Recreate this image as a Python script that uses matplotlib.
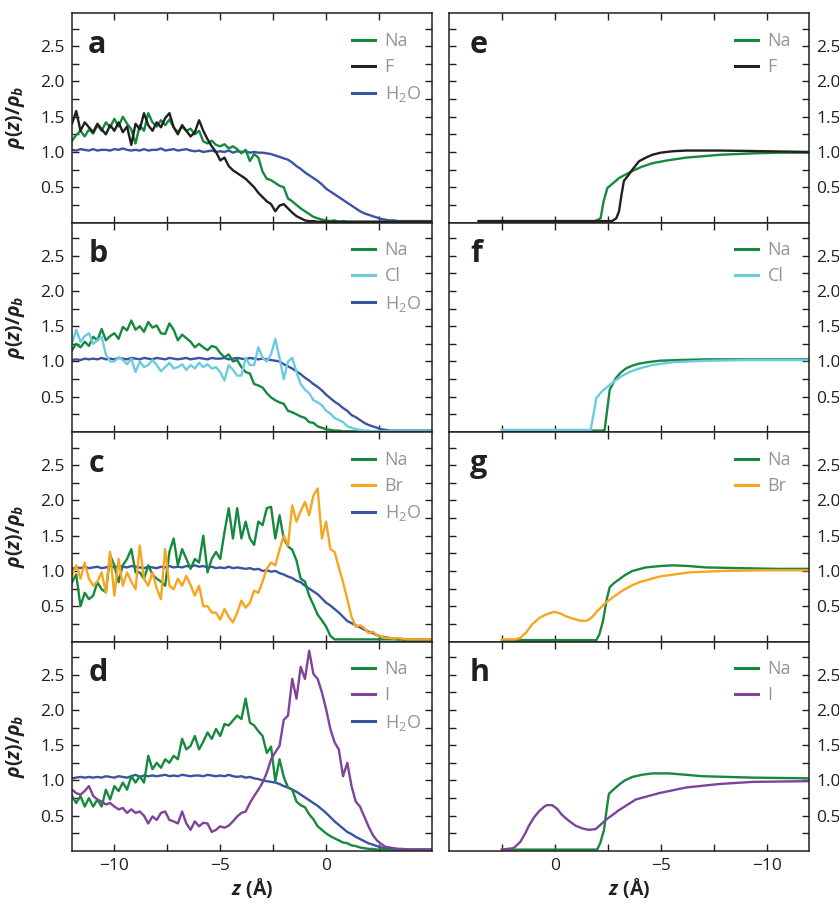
import numpy as np
import matplotlib
matplotlib.use("Agg")
import matplotlib.pyplot as plt
from matplotlib.ticker import FixedLocator
from matplotlib.lines import Line2D

plt.rcParams['font.family'] = ['Open Sans', 'DejaVu Sans']
plt.rcParams['mathtext.fontset'] = 'custom'
plt.rcParams['mathtext.it'] = 'Open Sans:italic:bold'
plt.rcParams['mathtext.rm'] = 'Open Sans:bold'
plt.rcParams['mathtext.bf'] = 'Open Sans:bold'

# ---- simulation profiles (left column), z in Angstrom, step 0.2 ----
z_sim = np.round(np.arange(-12.0, 5.001, 0.2), 1)

a_na = [1.16, 1.24, 1.30, 1.22, 1.32, 1.26, 1.38, 1.30, 1.42, 1.35,
        1.47, 1.36, 1.50, 1.40, 1.32, 1.12, 1.38, 1.30, 1.55, 1.42,
        1.36, 1.45, 1.38, 1.46, 1.35, 1.28, 1.36, 1.30, 1.33, 1.25,
        1.30, 1.15, 1.12, 1.16, 1.10, 1.08, 1.11, 1.05, 1.08, 1.04,
        0.98, 1.03, 0.87, 0.97, 0.92, 0.72, 0.62, 0.60, 0.56, 0.52,
        0.50, 0.34, 0.30, 0.25, 0.20, 0.16, 0.12, 0.08, 0.06, 0.04,
        0.03, 0.02, 0.03, 0.01, 0.02, 0.01, 0.01, 0.01, 0.01, 0.01,
        0.01, 0.01, 0.01, 0.01, 0.01, 0.01, 0.01, 0.01, 0.01, 0.01,
        0.01, 0.01, 0.01, 0.01, 0.01, 0.01]
a_f = [1.40, 1.58, 1.30, 1.42, 1.35, 1.28, 1.40, 1.32, 1.25, 1.38,
       1.30, 1.42, 1.28, 1.36, 1.10, 1.40, 1.32, 1.55, 1.38, 1.30,
       1.42, 1.35, 1.48, 1.55, 1.35, 1.25, 1.38, 1.30, 1.22, 1.28,
       1.45, 1.30, 1.18, 1.08, 1.00, 0.88, 0.92, 0.80, 0.74, 0.70,
       0.66, 0.62, 0.56, 0.50, 0.42, 0.36, 0.30, 0.26, 0.16, 0.24,
       0.26, 0.20, 0.14, 0.09, 0.06, 0.03, 0.02, 0.02, 0.01, 0.01,
       0.01, 0.01, 0.01, 0.01, 0.01, 0.01, 0.01, 0.01, 0.01, 0.01,
       0.01, 0.01, 0.01, 0.01, 0.01, 0.01, 0.01, 0.01, 0.01, 0.01,
       0.01, 0.01, 0.01, 0.01, 0.01, 0.01]
a_w = [1.03, 1.02, 1.04, 1.03, 1.02, 1.04, 1.02, 1.03, 1.03, 1.02,
       1.04, 1.03, 1.05, 1.03, 1.02, 1.03, 1.02, 1.04, 1.02, 1.03,
       1.03, 1.05, 1.02, 1.03, 1.04, 1.02, 1.03, 1.04, 1.02, 1.01,
       1.02, 1.00, 1.01, 1.02, 1.00, 1.01, 1.00, 1.02, 0.99, 1.01,
       1.00, 1.01, 0.99, 1.00, 0.99, 0.99, 0.98, 0.97, 0.95, 0.93,
       0.91, 0.89, 0.85, 0.80, 0.76, 0.71, 0.67, 0.63, 0.59, 0.54,
       0.48, 0.44, 0.40, 0.36, 0.32, 0.28, 0.24, 0.20, 0.16, 0.13,
       0.11, 0.09, 0.07, 0.05, 0.04, 0.03, 0.03, 0.02, 0.02, 0.02,
       0.02, 0.02, 0.02, 0.02, 0.02, 0.02]

b_na = [1.16, 1.25, 1.20, 1.28, 1.22, 1.35, 1.30, 1.46, 1.30, 1.36,
        1.40, 1.32, 1.49, 1.44, 1.58, 1.45, 1.50, 1.42, 1.56, 1.48,
        1.51, 1.40, 1.39, 1.54, 1.45, 1.30, 1.38, 1.33, 1.28, 1.20,
        1.25, 1.20, 1.16, 1.22, 1.20, 1.12, 1.06, 1.10, 1.00, 1.02,
        0.92, 0.85, 0.83, 0.68, 0.66, 0.63, 0.55, 0.49, 0.45, 0.42,
        0.40, 0.30, 0.28, 0.25, 0.22, 0.20, 0.14, 0.13, 0.08, 0.06,
        0.04, 0.03, 0.02, 0.02, 0.01, 0.01, 0.01, 0.01, 0.01, 0.01,
        0.01, 0.01, 0.01, 0.01, 0.01, 0.01, 0.01, 0.01, 0.01, 0.01,
        0.01, 0.01, 0.01, 0.01, 0.01, 0.01]
b_cl = [1.25, 1.45, 1.28, 1.36, 1.40, 1.25, 1.30, 1.35, 1.10, 1.00,
        1.00, 1.06, 1.02, 0.96, 1.04, 0.85, 1.00, 0.92, 0.95, 1.02,
        0.95, 0.86, 0.92, 0.98, 0.90, 0.92, 0.96, 0.88, 0.95, 0.90,
        0.98, 0.92, 0.96, 0.90, 0.92, 0.85, 0.73, 0.95, 0.88, 0.80,
        0.80, 1.05, 0.95, 0.95, 1.20, 1.05, 1.00, 1.10, 1.32, 1.05,
        0.75, 1.00, 1.05, 0.85, 0.68, 0.60, 0.55, 0.45, 0.42, 0.38,
        0.30, 0.26, 0.20, 0.17, 0.14, 0.08, 0.06, 0.04, 0.03, 0.02,
        0.02, 0.01, 0.01, 0.01, 0.01, 0.01, 0.01, 0.01, 0.01, 0.01,
        0.01, 0.01, 0.01, 0.01, 0.01, 0.01]
b_w = [1.02, 1.03, 1.02, 1.04, 1.03, 1.04, 1.03, 1.05, 1.03, 1.04,
       1.03, 1.05, 1.04, 1.03, 1.05, 1.04, 1.03, 1.05, 1.04, 1.03,
       1.05, 1.04, 1.03, 1.05, 1.04, 1.03, 1.04, 1.05, 1.03, 1.04,
       1.05, 1.04, 1.03, 1.05, 1.04, 1.04, 1.05, 1.03, 1.04, 1.05,
       1.04, 1.03, 1.05, 1.04, 1.03, 1.04, 1.03, 1.02, 1.01, 1.00,
       0.96, 0.93, 0.90, 0.86, 0.82, 0.77, 0.73, 0.68, 0.64, 0.59,
       0.53, 0.48, 0.43, 0.39, 0.34, 0.30, 0.24, 0.21, 0.17, 0.13,
       0.10, 0.08, 0.06, 0.04, 0.03, 0.02, 0.02, 0.02, 0.02, 0.02,
       0.02, 0.02, 0.02, 0.02, 0.02, 0.02]

c_na = [0.84, 0.95, 0.50, 0.69, 0.60, 0.65, 0.84, 0.74, 0.70, 1.22,
        1.08, 0.84, 1.08, 1.17, 1.31, 0.98, 0.98, 0.89, 1.08, 0.95,
        0.89, 0.85, 0.79, 1.27, 1.46, 1.08, 1.31, 1.17, 1.03, 1.17,
        1.12, 1.50, 0.98, 1.17, 1.27, 1.17, 1.55, 1.89, 1.46, 1.89,
        1.46, 1.70, 1.46, 1.37, 1.70, 1.65, 1.89, 1.91, 1.46, 1.79,
        1.46, 1.35, 1.30, 1.15, 0.89, 0.85, 0.65, 0.52, 0.38, 0.30,
        0.21, 0.08, 0.03, 0.03, 0.03, 0.03, 0.03, 0.03, 0.03, 0.03,
        0.03, 0.03, 0.03, 0.03, 0.03, 0.03, 0.03, 0.03, 0.03, 0.03,
        0.03, 0.03, 0.03, 0.03, 0.03, 0.03]
c_br = [0.93, 1.08, 0.89, 1.12, 0.89, 0.79, 0.85, 0.98, 0.69, 1.27,
        0.65, 1.17, 0.79, 0.98, 0.85, 0.74, 1.36, 0.89, 0.79, 0.98,
        0.75, 0.60, 1.31, 0.79, 0.74, 0.89, 0.79, 0.93, 0.80, 0.65,
        0.79, 0.50, 0.50, 0.41, 0.41, 0.31, 0.46, 0.35, 0.27, 0.41,
        0.58, 0.48, 0.55, 0.72, 0.69, 0.85, 1.03, 1.12, 1.08, 1.30,
        1.50, 1.36, 1.93, 1.70, 1.85, 1.98, 1.79, 2.07, 2.17, 1.46,
        1.70, 1.31, 1.27, 1.05, 0.84, 0.60, 0.35, 0.21, 0.23, 0.19,
        0.12, 0.14, 0.09, 0.07, 0.05, 0.05, 0.04, 0.05, 0.04, 0.03,
        0.03, 0.03, 0.03, 0.03, 0.03, 0.03]
c_w = [1.03, 1.05, 1.04, 1.06, 1.04, 1.05, 1.06, 1.04, 1.05, 1.07,
       1.05, 1.07, 1.06, 1.05, 1.07, 1.06, 1.05, 1.04, 1.06, 1.05,
       1.04, 1.06, 1.05, 1.07, 1.05, 1.06, 1.05, 1.07, 1.06, 1.08,
       1.06, 1.07, 1.05, 1.06, 1.04, 1.05, 1.04, 1.06, 1.04, 1.05,
       1.04, 1.03, 1.04, 1.02, 1.03, 1.00, 1.01, 0.99, 1.00, 0.97,
       0.95, 0.92, 0.90, 0.86, 0.84, 0.79, 0.75, 0.71, 0.67, 0.61,
       0.55, 0.51, 0.46, 0.41, 0.35, 0.29, 0.26, 0.23, 0.20, 0.17,
       0.14, 0.12, 0.09, 0.07, 0.06, 0.05, 0.04, 0.03, 0.03, 0.02,
       0.02, 0.02, 0.02, 0.02, 0.02, 0.02]

d_na = [0.78, 0.68, 0.78, 0.63, 0.75, 0.63, 0.73, 0.63, 0.87, 0.73,
        0.92, 0.85, 0.97, 0.87, 1.06, 0.97, 1.06, 0.97, 1.35, 1.16,
        1.25, 1.18, 1.30, 1.25, 1.35, 1.30, 1.59, 1.44, 1.49, 1.63,
        1.44, 1.55, 1.68, 1.59, 1.73, 1.63, 1.80, 1.78, 1.85, 1.92,
        1.87, 2.16, 1.82, 1.78, 1.70, 1.63, 1.39, 1.48, 0.99, 1.30,
        1.05, 0.90, 0.87, 0.70, 0.65, 0.62, 0.52, 0.45, 0.35, 0.30,
        0.25, 0.21, 0.18, 0.15, 0.12, 0.11, 0.08, 0.07, 0.05, 0.04,
        0.03, 0.03, 0.02, 0.02, 0.02, 0.02, 0.02, 0.02, 0.02, 0.02,
        0.02, 0.02, 0.02, 0.02, 0.02, 0.02]
d_i = [0.87, 0.82, 0.80, 0.85, 0.92, 0.78, 0.73, 0.70, 0.66, 0.68,
       0.63, 0.59, 0.61, 0.54, 0.59, 0.54, 0.56, 0.50, 0.39, 0.49,
       0.44, 0.54, 0.56, 0.44, 0.42, 0.39, 0.56, 0.39, 0.30, 0.42,
       0.35, 0.40, 0.39, 0.27, 0.30, 0.35, 0.33, 0.36, 0.42, 0.49,
       0.54, 0.56, 0.68, 0.78, 0.87, 0.97, 1.11, 1.30, 1.40, 1.49,
       1.86, 1.92, 2.44, 2.16, 2.61, 2.44, 2.84, 2.51, 2.44, 2.25,
       2.01, 1.73, 1.54, 1.44, 1.06, 1.25, 0.92, 0.70, 0.63, 0.49,
       0.35, 0.23, 0.15, 0.10, 0.06, 0.05, 0.04, 0.03, 0.03, 0.02,
       0.02, 0.02, 0.02, 0.02, 0.02, 0.02]
d_w = [1.03, 1.04, 1.05, 1.04, 1.05, 1.04, 1.05, 1.04, 1.06, 1.05,
       1.04, 1.06, 1.05, 1.04, 1.06, 1.08, 1.05, 1.07, 1.06, 1.07,
       1.06, 1.07, 1.08, 1.06, 1.07, 1.06, 1.08, 1.07, 1.06, 1.07,
       1.07, 1.06, 1.08, 1.07, 1.06, 1.07, 1.06, 1.08, 1.06, 1.05,
       1.06, 1.04, 1.05, 1.03, 1.02, 1.00, 0.99, 0.98, 0.97, 0.95,
       0.92, 0.90, 0.87, 0.84, 0.80, 0.76, 0.72, 0.68, 0.64, 0.59,
       0.54, 0.48, 0.42, 0.37, 0.32, 0.27, 0.24, 0.20, 0.17, 0.14,
       0.11, 0.09, 0.07, 0.05, 0.04, 0.03, 0.03, 0.02, 0.02, 0.02,
       0.02, 0.02, 0.02, 0.02, 0.02, 0.02]

# ---- model profiles (right column) ----
e_na_z = [3.6, 2.0, 0.0, -1.9, -2.16, -2.3, -2.48, -2.8, -3.03, -3.4, -3.66, -4.1,
          -4.6, -5.3, -6.2, -7.0, -7.8, -9.35, -10.5, -12.0]
e_na = [0.02, 0.02, 0.02, 0.02, 0.06, 0.30, 0.49, 0.57, 0.63, 0.69, 0.73, 0.79,
        0.84, 0.88, 0.92, 0.94, 0.96, 0.98, 0.99, 0.99]
e_f_z = [3.6, 0.0, -2.7, -2.9, -3.03, -3.15, -3.26, -3.42, -3.66, -3.98, -4.3, -4.6,
         -5.0, -5.56, -6.2, -7.8, -10.0, -12.0]
e_f = [0.02, 0.02, 0.02, 0.06, 0.16, 0.40, 0.59, 0.65, 0.75, 0.87, 0.92, 0.96,
       0.99, 1.01, 1.02, 1.02, 1.01, 1.00]

f_na_z = [2.5, 0.0, -2.24, -2.35, -2.59, -2.87, -3.1, -3.35, -3.65, -3.98, -4.4,
          -4.93, -5.8, -7.14, -12.0]
f_na = [0.02, 0.02, 0.02, 0.03, 0.60, 0.76, 0.84, 0.90, 0.94, 0.97, 0.99,
        1.01, 1.02, 1.03, 1.03]
f_cl_z = [2.5, 0.0, -1.69, -1.96, -2.2, -2.56, -2.9, -3.19, -3.6, -3.98, -4.6,
          -5.56, -7.14, -9.0, -12.0]
f_cl = [0.03, 0.03, 0.03, 0.48, 0.57, 0.66, 0.74, 0.80, 0.86, 0.90, 0.95,
        0.99, 1.01, 1.02, 1.02]

g_na_z = [2.5, 0.0, -1.96, -2.1, -2.27, -2.45, -2.59, -2.8, -3.03, -3.3, -3.66,
          -4.29, -5.0, -5.56, -6.3, -7.14, -8.72, -10.5, -12.0]
g_na = [0.02, 0.02, 0.02, 0.10, 0.29, 0.60, 0.77, 0.83, 0.88, 0.94, 1.00,
        1.05, 1.07, 1.08, 1.07, 1.05, 1.04, 1.03, 1.03]
g_br_z = [2.5, 1.9, 1.63, 1.35, 1.08, 0.75, 0.44, 0.05, -0.25, -0.5, -0.8, -1.13,
          -1.4, -1.61, -1.8, -2.0, -2.4, -2.8, -3.19, -3.6, -3.98, -4.93, -6.35,
          -7.93, -10.0, -12.0]
g_br = [0.03, 0.03, 0.05, 0.13, 0.24, 0.33, 0.38, 0.42, 0.40, 0.36, 0.33, 0.30,
        0.29, 0.31, 0.36, 0.43, 0.55, 0.64, 0.72, 0.79, 0.84, 0.92, 0.98,
        1.00, 1.01, 1.01]

h_na_z = [2.5, 0.0, -2.0, -2.15, -2.32, -2.45, -2.55, -2.8, -3.03, -3.3, -3.66,
          -4.1, -4.6, -5.4, -6.2, -6.98, -9.35, -12.0]
h_na = [0.02, 0.02, 0.02, 0.12, 0.30, 0.60, 0.81, 0.88, 0.94, 1.00, 1.05,
        1.08, 1.10, 1.10, 1.08, 1.06, 1.04, 1.03]
h_i_z = [2.5, 1.95, 1.63, 1.4, 1.24, 1.0, 0.76, 0.5, 0.37, 0.13, -0.1, -0.34,
         -0.65, -0.97, -1.3, -1.6, -1.92, -2.15, -2.4, -3.03, -3.82, -4.92,
         -6.19, -7.77, -9.35, -12.0]
h_i = [0.02, 0.04, 0.13, 0.25, 0.35, 0.47, 0.56, 0.63, 0.65, 0.65, 0.60, 0.51,
       0.43, 0.36, 0.32, 0.30, 0.31, 0.37, 0.44, 0.58, 0.73, 0.82,
       0.90, 0.95, 0.98, 0.99]

GREEN = '#16893f'
BLACK = '#231f20'
WATER = '#3a53a4'
CL = '#6ccbe0'
BR = '#f8a51f'
IOD = '#7e439a'
GREY = '#939598'
WATER_LABEL = r'H$_\mathregular{2}$O'

left_panels = [
    ('a', [(a_w, WATER), (a_na, GREEN), (a_f, BLACK)], ['Na', 'F', WATER_LABEL], [GREEN, BLACK, WATER]),
    ('b', [(b_w, WATER), (b_na, GREEN), (b_cl, CL)], ['Na', 'Cl', WATER_LABEL], [GREEN, CL, WATER]),
    ('c', [(c_w, WATER), (c_na, GREEN), (c_br, BR)], ['Na', 'Br', WATER_LABEL], [GREEN, BR, WATER]),
    ('d', [(d_w, WATER), (d_na, GREEN), (d_i, IOD)], ['Na', 'I', WATER_LABEL], [GREEN, IOD, WATER]),
]
right_panels = [
    ('e', [(e_na_z, e_na, GREEN), (e_f_z, e_f, BLACK)], ['Na', 'F'], [GREEN, BLACK]),
    ('f', [(f_na_z, f_na, GREEN), (f_cl_z, f_cl, CL)], ['Na', 'Cl'], [GREEN, CL]),
    ('g', [(g_na_z, g_na, GREEN), (g_br_z, g_br, BR)], ['Na', 'Br'], [GREEN, BR]),
    ('h', [(h_na_z, h_na, GREEN), (h_i_z, h_i, IOD)], ['Na', 'I'], [GREEN, IOD]),
]

W, H = 839, 907
fig = plt.figure(figsize=(W / 100, H / 100), dpi=100)
row_top = [13, 222.5, 432, 641.5]
row_h = 209.5


def style_axes(ax, right_col, bottom_row):
    ax.set_ylim(0, 2.97)
    ax.yaxis.set_major_locator(FixedLocator([0.5, 1.0, 1.5, 2.0, 2.5]))
    ax.yaxis.set_minor_locator(FixedLocator([0.25, 0.75, 1.25, 1.75, 2.25, 2.75]))
    if right_col:
        ax.set_xlim(5, -12)
        ax.xaxis.set_major_locator(FixedLocator([0, -5, -10]))
        ax.xaxis.set_minor_locator(FixedLocator([2.5, -2.5, -7.5]))
    else:
        ax.set_xlim(-12, 5)
        ax.xaxis.set_major_locator(FixedLocator([-10, -5, 0]))
        ax.xaxis.set_minor_locator(FixedLocator([-7.5, -2.5, 2.5]))
    for which in ('major', 'minor'):
        ax.tick_params(which=which, direction='in', length=5, width=1.0, color=BLACK,
                       top=True, bottom=True, left=True, right=True,
                       labelsize=12.5, labelcolor=BLACK, pad=5)
    ax.tick_params(labelleft=not right_col, labelright=right_col,
                   labelbottom=bottom_row)
    for sp in ax.spines.values():
        sp.set_linewidth(1.1)
        sp.set_color(BLACK)
    ax.yaxis.set_major_formatter(plt.FormatStrFormatter('%.1f'))


def add_legend(ax, labels, colors, x0):
    handles = [Line2D([], [], color=c, lw=2.2) for c in colors]
    ax.legend(handles, labels, loc='upper left', bbox_to_anchor=(x0, 0.91),
              frameon=False, borderpad=0, borderaxespad=0, handlelength=1.25,
              handletextpad=0.55, labelspacing=0.45, fontsize=13, labelcolor=GREY)


for i, (letter, series, labels, colors) in enumerate(left_panels):
    bottom = H - row_top[i] - row_h
    ax = fig.add_axes([72 / W, bottom / H, 360 / W, row_h / H])
    for vals, col in series:
        ax.plot(z_sim, vals, color=col, lw=1.7, solid_joinstyle='round')
    style_axes(ax, False, i == 3)
    add_legend(ax, labels, colors, 0.778)
    ax.text(0.045, 0.81, letter, transform=ax.transAxes, fontsize=22,
            fontweight='bold', color=BLACK, ha='left', va='baseline')
    ax.set_ylabel(r'$\rho(z)/\rho_b$', fontsize=14, color=BLACK)
    ax.yaxis.set_label_coords(-0.125, 0.5)
    if i == 3:
        ax.set_xlabel(r'$z$ (Å)', fontsize=14, fontweight='bold', color=BLACK)
        ax.xaxis.set_label_coords(0.5, -0.12)

for i, (letter, series, labels, colors) in enumerate(right_panels):
    bottom = H - row_top[i] - row_h
    ax = fig.add_axes([449 / W, bottom / H, 360 / W, row_h / H])
    for zz, vals, col in series:
        ax.plot(zz, vals, color=col, lw=1.7, solid_joinstyle='round')
    style_axes(ax, True, i == 3)
    add_legend(ax, labels, colors, 0.795)
    ax.text(0.058, 0.81, letter, transform=ax.transAxes, fontsize=22,
            fontweight='bold', color=BLACK, ha='left', va='baseline')
    if i == 3:
        ax.set_xlabel(r'$z$ (Å)', fontsize=14, fontweight='bold', color=BLACK)
        ax.xaxis.set_label_coords(0.5, -0.12)

fig.savefig('out.png', dpi=100)
